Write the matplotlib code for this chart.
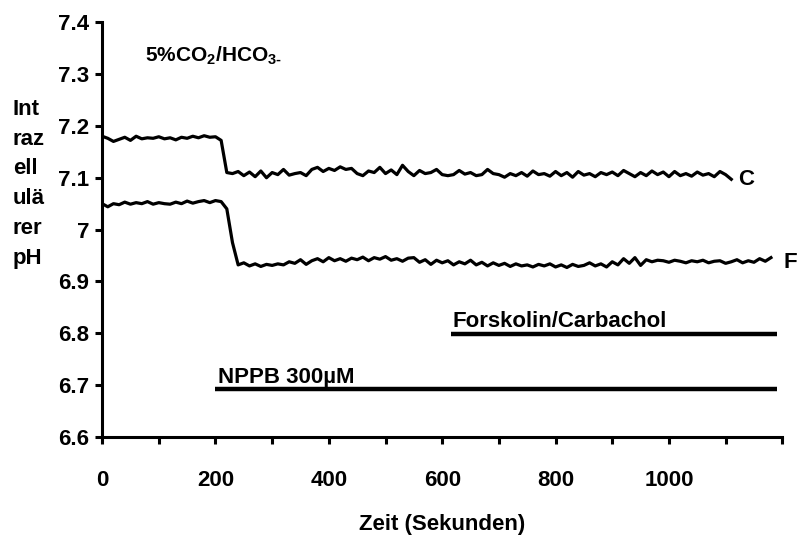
import numpy as np
import matplotlib
matplotlib.use("Agg")
from matplotlib import pyplot as plt

plt.rcParams['font.family'] = ['Liberation Sans', 'DejaVu Sans']
plt.rcParams['font.weight'] = 'bold'
plt.rcParams['mathtext.fontset'] = 'custom'
plt.rcParams['mathtext.rm'] = 'Liberation Sans:bold'
plt.rcParams['mathtext.bf'] = 'Liberation Sans:bold'

# Kontrolle (C), alle 10 s
c_zeit = np.arange(0, 1111, 10)
c_ph = [7.180, 7.176, 7.170, 7.174, 7.178, 7.172, 7.180, 7.175, 7.177, 7.176,
        7.179, 7.175, 7.177, 7.173, 7.178, 7.176, 7.180, 7.177, 7.181, 7.178,
        7.179, 7.172, 7.110, 7.108, 7.112, 7.104, 7.111, 7.102, 7.113, 7.100,
        7.110, 7.106, 7.116, 7.105, 7.108, 7.110, 7.104, 7.116, 7.120, 7.112,
        7.118, 7.114, 7.121, 7.116, 7.118, 7.108, 7.104, 7.113, 7.110, 7.120,
        7.108, 7.115, 7.106, 7.124, 7.112, 7.104, 7.114, 7.108, 7.110, 7.116,
        7.106, 7.104, 7.106, 7.114, 7.107, 7.110, 7.104, 7.106, 7.116, 7.108,
        7.106, 7.101, 7.108, 7.104, 7.110, 7.103, 7.113, 7.106, 7.108, 7.103,
        7.112, 7.104, 7.110, 7.101, 7.112, 7.105, 7.108, 7.102, 7.110, 7.106,
        7.111, 7.104, 7.114, 7.108, 7.102, 7.110, 7.104, 7.113, 7.106, 7.111,
        7.102, 7.112, 7.104, 7.108, 7.103, 7.111, 7.105, 7.108, 7.102, 7.112,
        7.106, 7.097]

# Forskolin/Carbachol (F), alle 10 s
f_zeit = np.arange(0, 1181, 10)
f_ph = [7.050, 7.044, 7.050, 7.048, 7.053, 7.049, 7.052, 7.050, 7.054, 7.049,
        7.052, 7.050, 7.049, 7.053, 7.050, 7.055, 7.051, 7.054, 7.056, 7.052,
        7.056, 7.054, 7.040, 6.975, 6.932, 6.936, 6.930, 6.934, 6.929, 6.933,
        6.931, 6.934, 6.932, 6.938, 6.935, 6.942, 6.933, 6.940, 6.944, 6.938,
        6.946, 6.940, 6.944, 6.939, 6.945, 6.942, 6.947, 6.940, 6.946, 6.943,
        6.948, 6.941, 6.944, 6.939, 6.945, 6.946, 6.937, 6.942, 6.933, 6.941,
        6.936, 6.940, 6.932, 6.938, 6.934, 6.941, 6.932, 6.937, 6.930, 6.936,
        6.931, 6.935, 6.929, 6.934, 6.930, 6.932, 6.928, 6.933, 6.930, 6.934,
        6.928, 6.932, 6.927, 6.933, 6.929, 6.931, 6.936, 6.930, 6.934, 6.928,
        6.938, 6.932, 6.944, 6.935, 6.946, 6.931, 6.942, 6.938, 6.941, 6.940,
        6.937, 6.941, 6.939, 6.936, 6.940, 6.938, 6.941, 6.936, 6.939, 6.940,
        6.935, 6.938, 6.942, 6.936, 6.940, 6.937, 6.944, 6.939, 6.946]

# Balken fuer die Substanzgabe: start, ende, pH-Hoehe
nppb_bar = [200, 1190, 6.692]
forsk_bar = [615, 1190, 6.798]

x_ticks = list(range(0, 1201, 100))
x_labels = ['0', '', '200', '', '400', '', '600', '', '800', '', '1000', '', '']
y_ticks = [6.6, 6.7, 6.8, 6.9, 7.0, 7.1, 7.2, 7.3, 7.4]
y_labels = ['6.6', '6.7', '6.8', '6.9', '7', '7.1', '7.2', '7.3', '7.4']

fig = plt.figure(figsize=(8.04, 5.39), dpi=100)
ax = fig.add_axes([0.127, 0.189, 0.846, 0.770])

ax.plot(c_zeit, c_ph, color='black', lw=2.3)
ax.plot(f_zeit, f_ph, color='black', lw=2.3)
ax.plot(nppb_bar[:2], [nppb_bar[2]] * 2, color='black', lw=3.2, solid_capstyle='butt')
ax.plot(forsk_bar[:2], [forsk_bar[2]] * 2, color='black', lw=3.2, solid_capstyle='butt')

fs = 16
ax.text(76, 7.324, r'5%CO$_{2}$/HCO$_{3\text{-}}$', fontsize=15, fontweight='bold')
ax.text(1122, 7.096, 'C', fontsize=fs, fontweight='bold', va='center')
ax.text(1203, 6.936, 'F', fontsize=fs, fontweight='bold', va='center', clip_on=False)
ax.text(619, 6.812, 'Forskolin/Carbachol', fontsize=fs, fontweight='bold')
ax.text(205, 6.705, 'NPPB 300\u00b5M', fontsize=fs, fontweight='bold')

ax.set_xlim(0, 1200)
ax.set_ylim(6.6, 7.4)
ax.set_xticks(x_ticks)
ax.set_xticklabels(x_labels)
ax.set_yticks(y_ticks)
ax.set_yticklabels(y_labels)

for s in ['top', 'right']:
    ax.spines[s].set_visible(False)
for s in ['left', 'bottom']:
    ax.spines[s].set_linewidth(2.2)
ax.tick_params(axis='both', width=2.2, length=5, labelsize=fs)
ax.tick_params(axis='x', pad=19)
ax.tick_params(axis='y', pad=4)

ax.set_xlabel('Zeit (Sekunden)', fontsize=fs, fontweight='bold', labelpad=16)
fig.text(0.016, 0.659, 'Int\nraz\nell\nulä\nrer\npH', fontsize=fs, fontweight='bold',
         ha='left', va='center', linespacing=1.55)

fig.savefig('out.png', dpi=100)
